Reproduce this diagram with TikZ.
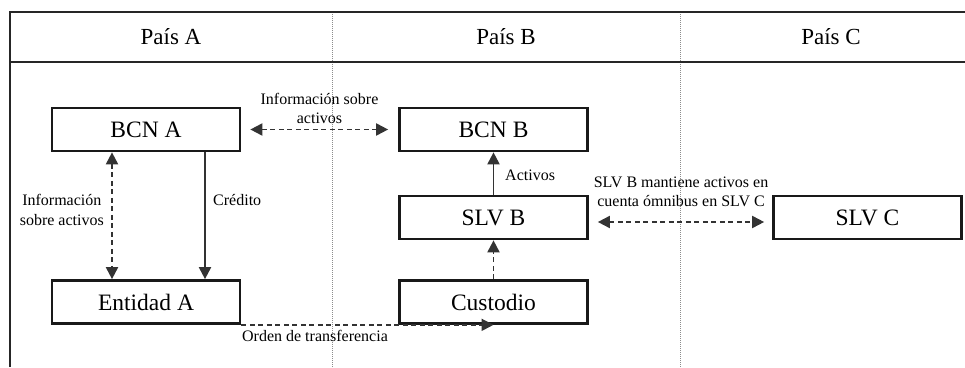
\documentclass[tikz,border=0pt]{standalone}
\usepackage{fontspec}
\setmainfont{Liberation Serif}
\usetikzlibrary{arrows.meta}
\begin{document}
\begin{tikzpicture}[x=1pt,y=1pt,
  box/.style={draw=black!90, line width=2.7pt, minimum width=188pt, minimum height=43pt, inner sep=0pt, font=\fontsize{23.5}{27}\selectfont},
  hdr/.style={font=\fontsize{23}{26}\selectfont},
  lbl/.style={font=\fontsize{16}{19.5}\selectfont, align=center, inner sep=0pt},
  conn/.style={draw=black!80, line width=1.9pt, -{Triangle[length=12pt,width=12pt]}},
  dconn/.style={conn, dash pattern=on 5pt off 3.5pt},
  biconn/.style={dconn, {Triangle[length=12pt,width=12pt]}-{Triangle[length=12pt,width=12pt]}},
  divider/.style={draw=black!45, line width=0.9pt, dash pattern=on 1pt off 1pt},
  frame/.style={draw=black!85, line width=2.7pt}
]
\useasboundingbox (0,0) rectangle (965,367);
% frame
\coordinate (tl) at (10,355);
\coordinate (tr) at (965,355);
\coordinate (hl) at (10,305);
\coordinate (hr) at (965,305);
\coordinate (bl) at (10,0);
\coordinate (d1t) at (332,355);
\coordinate (d1b) at (332,0);
\coordinate (d2t) at (680,355);
\coordinate (d2b) at (680,0);
\draw[divider] (d1t) -- (d1b);
\draw[divider] (d2t) -- (d2b);
\draw[frame] (bl) -- (tl) -- (tr);
\draw[frame] (hl) -- (hr);
% headers
\node[hdr] (ha) at (171,330) {País A};
\node[hdr] (hb) at (506,330) {País B};
\node[hdr] (hc) at (831,330) {País C};
% boxes
\node[box] (bcna) at (146,237.5) {BCN A};
\node[box] (enta) at (146,65) {Entidad A};
\node[box] (bcnb) at (493.5,237.5) {BCN B};
\node[box] (slvb) at (493.5,149.5) {SLV B};
\node[box] (cust) at (493.5,65) {Custodio};
\node[box] (slvc) at (867.5,149.5) {SLV C};
% connectors
\draw[biconn, shorten <=9pt, shorten >=10pt] (bcna) -- (bcnb);
\node[lbl] (l1) at (319.5,258.5) {Información sobre\\activos};
\draw[biconn] ([xshift=-34pt]bcna.south) -- ([xshift=-34pt]enta.north);
\node[lbl, anchor=east] (l2) at (104,157) {Información\\sobre activos};
\draw[conn] ([xshift=59pt]bcna.south) -- ([xshift=59pt]enta.north);
\node[lbl, anchor=west] (l3) at (213,167) {Crédito};
\draw[conn] (slvb) -- (bcnb);
\node[lbl, anchor=west] (l4) at (505,192) {Activos};
\draw[dconn] (cust) -- (slvb);
\draw[dconn] (enta.south east) -- (cust.south);
\node[lbl] (l5) at (315,31) {Orden de transferencia};
\draw[biconn, shorten <=9pt, shorten >=8pt] ([yshift=-4.5pt]slvb.east) -- ([yshift=-4.5pt]slvc.west);
\node[lbl] (l6) at (681,175) {SLV B mantiene activos en\\cuenta ómnibus en SLV C};
\end{tikzpicture}
\end{document}
